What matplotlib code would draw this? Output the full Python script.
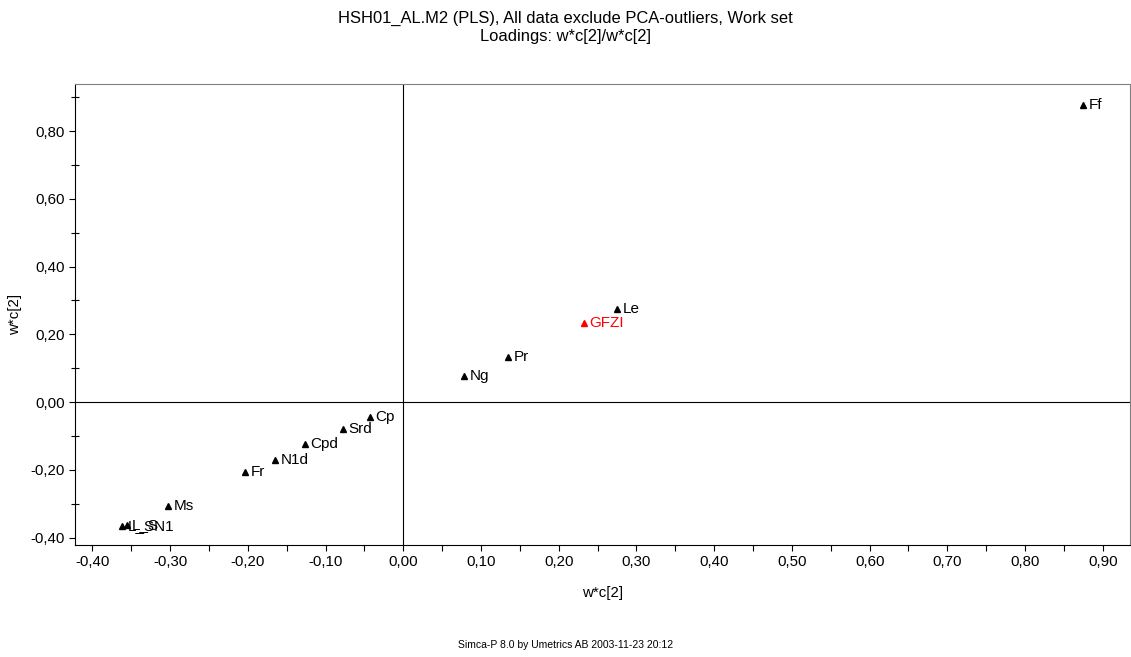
import matplotlib
matplotlib.use("Agg")
import matplotlib.pyplot as plt
from matplotlib.ticker import MultipleLocator, FuncFormatter

plt.rcParams['font.family'] = ['Liberation Sans', 'DejaVu Sans']

names = ['Ff', 'Le', 'GFZI', 'Pr', 'Ng', 'Cp', 'Srd', 'Cpd', 'N1d', 'Fr', 'Ms', 'L_SN1', 'L_S']
wc2_x = [0.875, 0.275, 0.232, 0.135, 0.078, -0.043, -0.078, -0.127, -0.165, -0.204, -0.303, -0.362, -0.356]
wc2_y = [0.877, 0.275, 0.233, 0.133, 0.077, -0.044, -0.080, -0.124, -0.171, -0.207, -0.307, -0.366, -0.364]
colors = ['black', 'black', 'red', 'black', 'black', 'black', 'black', 'black',
          'black', 'black', 'black', 'black', 'black']

fig = plt.figure(figsize=(11.31, 6.57), dpi=100)
ax = fig.add_axes([0.0663, 0.1705, 0.9328, 0.7016])

ax.axhline(0, color='black', lw=0.8, zorder=1)
ax.axvline(0, color='black', lw=0.8, zorder=1)

for n, x, y, c in zip(names, wc2_x, wc2_y, colors):
    ax.plot(x, y, '^', color=c, ms=5, zorder=3)
    ax.annotate(n, (x, y), xytext=(4, 0), textcoords='offset points',
                va='center', ha='left', fontsize=11, color=c)

ax.set_xlim(-0.4225, 0.935)
ax.set_ylim(-0.422, 0.939)

fmt = FuncFormatter(lambda v, p: f"{v:.2f}".replace('.', ','))
ax.xaxis.set_major_locator(MultipleLocator(0.1))
ax.xaxis.set_minor_locator(MultipleLocator(0.05))
ax.yaxis.set_major_locator(MultipleLocator(0.2))
ax.yaxis.set_minor_locator(MultipleLocator(0.1))
ax.xaxis.set_major_formatter(fmt)
ax.yaxis.set_major_formatter(fmt)
ax.tick_params(which='both', direction='out', length=4, width=0.8, labelsize=10.8)
ax.tick_params(axis='y', which='minor', direction='inout', length=6)

for s in ['top', 'right']:
    ax.spines[s].set_color('#808080')
for s in ['left', 'bottom']:
    ax.spines[s].set_color('black')

ax.set_xlabel('w*c[2]', fontsize=10.8, labelpad=12)
ax.set_ylabel('w*c[2]', fontsize=10.8, labelpad=6)

fig.text(0.5, 0.9726, 'HSH01_AL.M2 (PLS), All data exclude PCA-outliers, Work set',
         ha='center', va='center', fontsize=11.9)
fig.text(0.5, 0.9437, 'Loadings: w*c[2]/w*c[2]', ha='center', va='center', fontsize=11.9)
fig.text(0.5, 0.018, 'Simca-P 8.0 by Umetrics AB 2003-11-23 20:12',
         ha='center', va='center', fontsize=7.5)

fig.savefig('out.png', dpi=100)
